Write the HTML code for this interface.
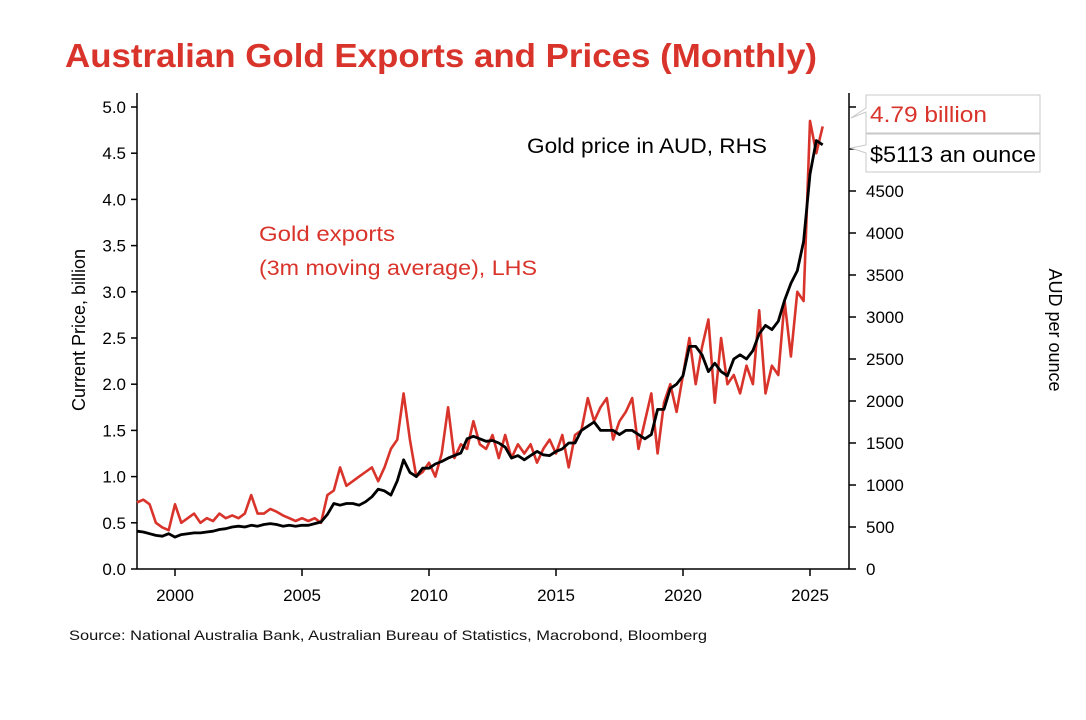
<!DOCTYPE html>
<html><head><meta charset="utf-8"><style>
body{margin:0;background:#fff;}
svg{display:block;font-family:"Liberation Sans","DejaVu Sans",sans-serif;}
</style></head><body>
<svg id="chart" width="1086" height="720">
<text x="65" y="67" font-size="33" fill="#d9342b" font-weight="bold" textLength="752" lengthAdjust="spacingAndGlyphs">Australian Gold Exports and Prices (Monthly)</text>
<g id="axes"></g>
<g id="plot"></g>
<text x="259" y="241" font-size="21" fill="#d9342b" textLength="136" lengthAdjust="spacingAndGlyphs">Gold exports</text>
<text x="259" y="275" font-size="21" fill="#d9342b" textLength="278" lengthAdjust="spacingAndGlyphs">(3m moving average), LHS</text>
<text x="527" y="153" font-size="21" fill="#000" textLength="240" lengthAdjust="spacingAndGlyphs">Gold price in AUD, RHS</text>
<text transform="translate(85,330) rotate(-90)" text-anchor="middle" font-size="18">Current Price, billion</text>
<text transform="translate(1049,330) rotate(90)" text-anchor="middle" font-size="18">AUD per ounce</text>
<g>
<polygon points="866,95 1040,95 1040,133 866,133 866,112 851,118 866,108" fill="#fff" stroke="#c8c8c8"/>
<text x="870" y="122" font-size="22" fill="#d9342b" textLength="117" lengthAdjust="spacingAndGlyphs">4.79 billion</text>
</g>
<g>
<polygon points="866,134 1040,134 1040,172 866,172 866,153 851,148 866,145" fill="#fff" stroke="#c8c8c8"/>
<text x="870" y="162" font-size="22" fill="#000" textLength="166" lengthAdjust="spacingAndGlyphs">$5113 an ounce</text>
</g>
<text x="69" y="640" font-size="14" fill="#111" textLength="638" lengthAdjust="spacingAndGlyphs">Source: National Australia Bank, Australian Bureau of Statistics, Macrobond, Bloomberg</text>
</svg>
<script>
const startYear = 1998.5;
const step = 0.25;
const goldPrice = [450,440,
420,400,390,420, 380,410,420,430, 430,440,450,470, 480,500,510,500,
520,510,530,540, 530,510,520,510, 520,520,540,560, 650,780,760,780,
780,760,800,860, 950,930,880,1050, 1300,1150,1100,1200, 1200,1250,1280,1320,
1350,1380,1550,1580, 1550,1520,1530,1500, 1450,1320,1350,1300, 1350,1400,1360,1350,
1400,1430,1500,1500, 1650,1700,1750,1650, 1650,1650,1600,1650, 1650,1600,1550,1600,
1900,1900,2150,2200, 2300,2650,2650,2550, 2350,2450,2350,2300, 2500,2550,2500,2600,
2800,2900,2850,2950, 3200,3400,3550,3900, 4700,5100,5050];
const goldExports = [0.72,0.75,
0.70,0.50,0.45,0.42, 0.70,0.50,0.55,0.60, 0.50,0.55,0.52,0.60, 0.55,0.58,0.55,0.60,
0.80,0.60,0.60,0.65, 0.62,0.58,0.55,0.52, 0.55,0.52,0.55,0.50, 0.80,0.85,1.10,0.90,
0.95,1.00,1.05,1.10, 0.95,1.10,1.30,1.40, 1.90,1.40,1.00,1.05, 1.15,1.00,1.25,1.75,
1.20,1.35,1.30,1.60, 1.35,1.30,1.45,1.20, 1.45,1.20,1.35,1.25, 1.35,1.15,1.30,1.40,
1.25,1.45,1.10,1.45, 1.50,1.85,1.60,1.75, 1.85,1.40,1.60,1.70, 1.85,1.30,1.60,1.90,
1.25,1.80,2.00,1.70, 2.10,2.50,2.00,2.40, 2.70,1.80,2.50,2.00, 2.10,1.90,2.20,2.00,
2.80,1.90,2.20,2.10, 2.90,2.30,3.00,2.90, 4.85,4.50,4.79];
const xTicks = [2000,2005,2010,2015,2020,2025];
const leftTicks = [0,0.5,1,1.5,2,2.5,3,3.5,4,4.5,5];
const rightTicks = [0,500,1000,1500,2000,2500,3000,3500,4000,4500,5000,5500];
const rightLabels = ["0","500","1000","1500","2000","2500","3000","3500","4000","4500","",""];

const NS="http://www.w3.org/2000/svg";
const X0=137,X1=849,Y0=569,YT=93;
const xs=y=>175+(y-2000)*25.4;
const yl=v=>Y0-v*92.4;
const yr=v=>Y0-v*0.0840;
function mk(tag,attrs,parent){const e=document.createElementNS(NS,tag);for(const k in attrs)e.setAttribute(k,attrs[k]);parent.appendChild(e);return e;}
const axes=document.getElementById('axes'),plot=document.getElementById('plot');
let e;
e=mk('line',{x1:X0,y1:YT,x2:X0,y2:Y0,stroke:'#000','stroke-width':1.5},axes);


e=mk('line',{x1:X1,y1:YT,x2:X1,y2:Y0,stroke:'#000','stroke-width':1.5},axes);


e=mk('line',{x1:X0,y1:Y0,x2:X1,y2:Y0,stroke:'#000','stroke-width':1.5},axes);


leftTicks.forEach(v=>{
  mk('line',{x1:X0-6,y1:yl(v),x2:X0,y2:yl(v),stroke:'#000','stroke-width':1.5},axes);
  e=mk('text',{x:X0-11,y:yl(v)+6,'text-anchor':'end','font-size':17},axes);
  e.textContent=v.toFixed(1);
  
  
});
rightTicks.forEach((v,i)=>{
  mk('line',{x1:X1,y1:yr(v),x2:X1+7,y2:yr(v),stroke:'#000','stroke-width':1.5},axes);
  e=mk('text',{x:X1+17,y:yr(v)+6,'font-size':17},axes);
  e.textContent=rightLabels[i];
  
  
});
xTicks.forEach(v=>{
  mk('line',{x1:xs(v),y1:Y0,x2:xs(v),y2:Y0+7,stroke:'#000','stroke-width':1.5},axes);
  e=mk('text',{x:xs(v),y:Y0+32,'text-anchor':'middle','font-size':17},axes);
  e.textContent=v;
  
  
});
function path(arr,yf){return arr.map((v,i)=>(i?'L':'M')+xs(startYear+i*step).toFixed(1)+','+yf(v).toFixed(1)).join('');}
e=mk('path',{d:path(goldExports,yl),fill:'none',stroke:'#d9342b','stroke-width':2.6,'stroke-linejoin':'round'},plot);


e=mk('path',{d:path(goldPrice,yr),fill:'none',stroke:'#000','stroke-width':2.8,'stroke-linejoin':'round'},plot);


</script>
</body></html>
